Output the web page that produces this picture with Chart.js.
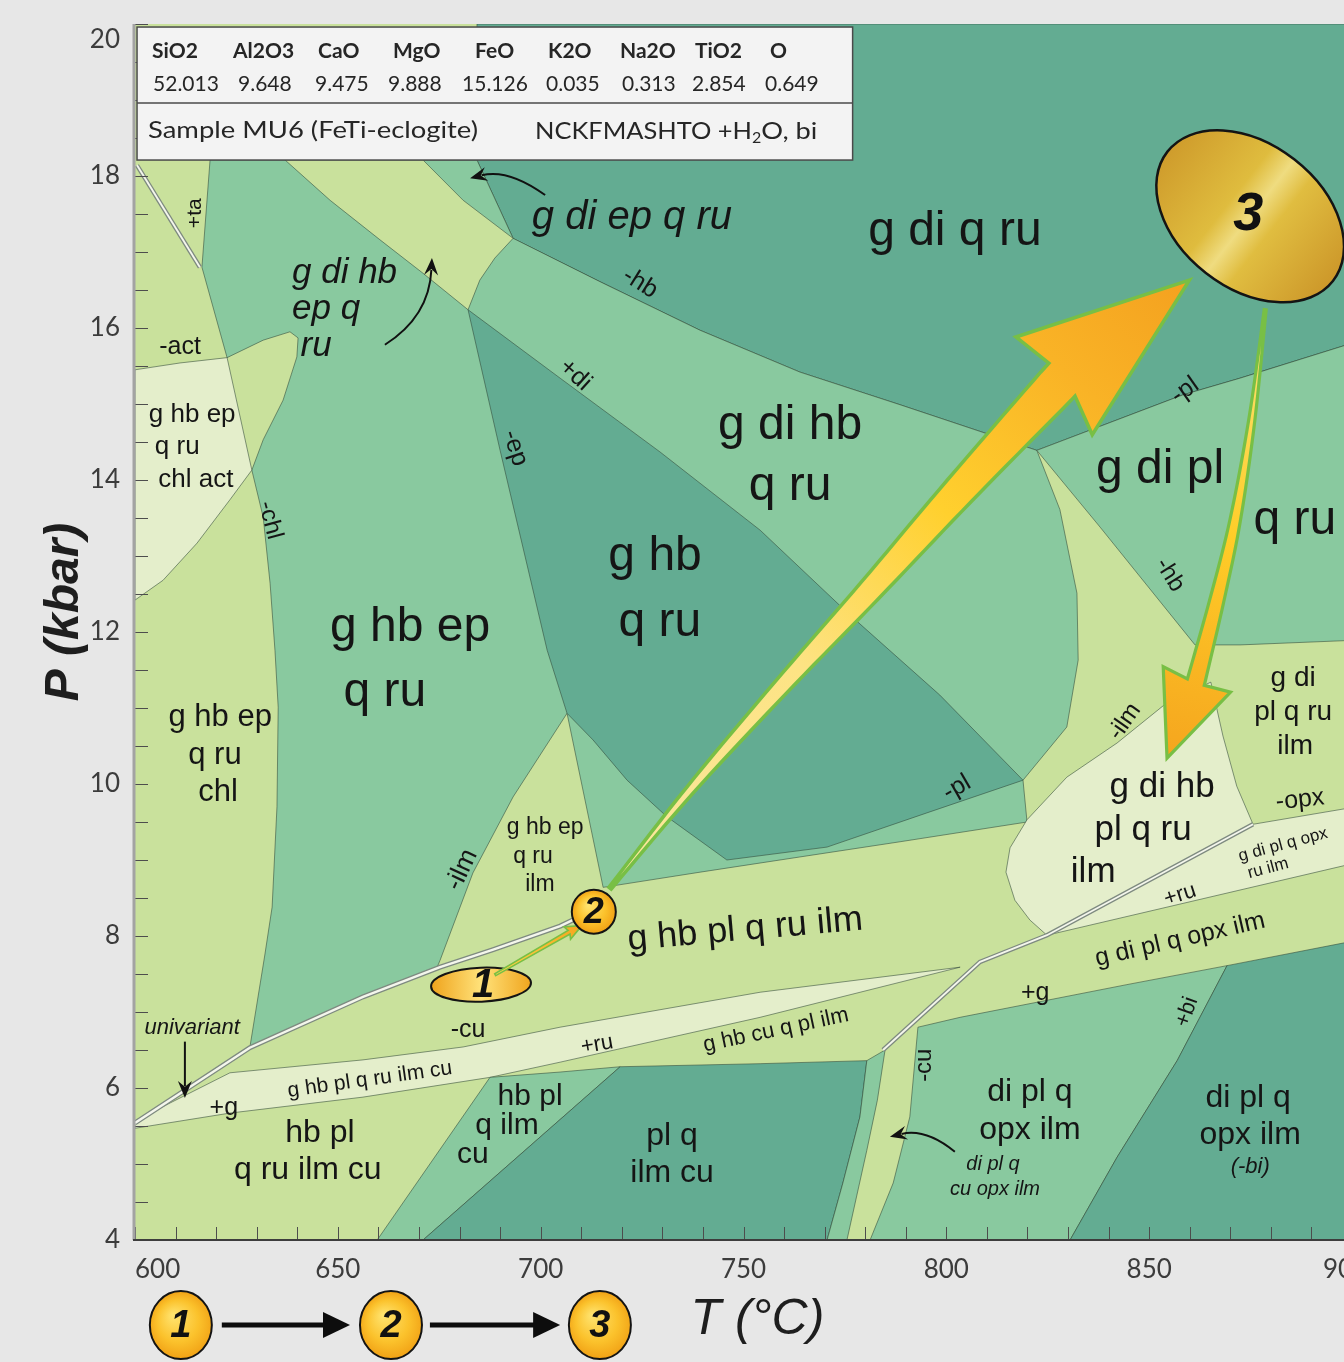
<!DOCTYPE html>
<html>
<head>
<meta charset="utf-8">
<title>Pseudosection MU6 (FeTi-eclogite)</title>
<script src="https://cdn.jsdelivr.net/npm/chart.js@4.4.1/dist/chart.umd.min.js"></script>
<style>
  html, body { margin:0; padding:0; width:1344px; height:1362px; overflow:hidden; background:#e7e7e7; }
  #wrap { position:relative; width:1380px; height:1362px; }
  canvas { display:block; }
</style>
</head>
<body>
<div id="wrap"><canvas id="chart" width="1380" height="1362"></canvas></div>
<script>
// ======================= DATA =======================
const T_TICKS = [600, 650, 700, 750, 800, 850, 900];
const P_TICKS = [4, 6, 8, 10, 12, 14, 16, 18, 20];
const OXIDES = ['SiO2', 'Al2O3', 'CaO', 'MgO', 'FeO', 'K2O', 'Na2O', 'TiO2', 'O'];
const OXIDE_VALUES = ['52.013', '9.648', '9.475', '9.888', '15.126', '0.035', '0.313', '2.854', '0.649'];

// phase-field polygons, points are [T (°C), P (kbar)]
const FIELD_G_DI_Q_RU = [[684.3,20],[900,20],[900,15.80],[872.4,15.34],[858.3,15.12],[822.3,14.39],[788.6,14.99],[763.9,15.42],[739.3,15.97],[714.6,16.61],[693.2,17.18],[684.3,18.21]];
const FIELD_G_HB_EP_Q_RU = [[618.5,18.21],[684.3,18.21],[693.2,17.18],[714.6,16.61],[739.3,15.97],[763.9,15.42],[788.6,14.99],[822.3,14.39],[828.0,13.61],[832.2,12.51],[832.5,11.63],[829.7,10.75],[818.9,10.05],[819.9,9.50],[788.6,9.24],[763.9,9.04],[739.3,8.84],[715.4,8.64],[706.5,10.93],[693.2,9.83],[683.3,8.83],[675.2,7.68],[674.4,7.58],[656.2,7.20],[628.3,6.53],[632.0,7.75],[633.8,8.38],[635.0,9.70],[635.3,11.01],[634.5,11.76],[633.3,12.64],[631.6,13.51],[628.8,14.13],[631.6,14.53],[636.5,15.05],[639.9,15.62],[640.2,15.87],[638.2,15.95],[631.6,15.84],[622.7,15.61],[616.5,16.80]];
const FIELD_G_DI_HB_EP_Q_RU = [[637.0,18.21],[671.0,18.21],[680.9,17.68],[693.2,17.18],[688.7,16.92],[685.0,16.63],[682.1,16.24],[671.0,16.72],[660.4,17.16],[648.1,17.68]];
const FIELD_G_HB_Q_RU = [[682.1,16.24],[704.8,15.34],[729.4,14.37],[754.1,13.34],[776.3,12.22],[798.4,11.17],[818.9,10.05],[795.2,9.62],[770.6,9.17],[745.9,9.00],[731.1,9.57],[721.3,10.05],[712.9,10.58],[706.5,10.93],[701.6,11.76],[690.0,14.39]];
const FIELD_G_HB_EP_Q_RU_CHL_ACT = [[600,15.45],[611.1,15.54],[622.7,15.61],[628.8,14.13],[623.4,13.74],[615.3,13.17],[606.9,12.68],[600,12.42]];
const FIELD_G_DI_PL_Q_RU = [[822.3,14.39],[858.3,15.12],[872.4,15.34],[900,15.80],[900,11.89],[872.4,11.83],[861.3,11.83],[837.9,13.38]];
const FIELD_G_DI_HB_PL_Q_RU_ILM = [[865.2,11.34],[854.4,11.07],[842.1,10.54],[829.7,10.09],[819.9,9.53],[815.7,9.16],[814.7,8.84],[816.9,8.47],[820.6,8.21],[824.8,8.01],[850.2,8.74],[875.6,9.47],[871.6,9.97],[868.2,10.63]];
const FIELD_G_DI_PL_Q_OPX_RU_ILM = [[824.8,8.01],[875.6,9.47],[900,9.69],[900,8.95]];
const FIELD_G_HB_PL_Q_RU_ILM_CU = [[600,5.57],[623.4,6.20],[656.2,6.37],[680.9,6.54],[704.8,6.80],[754.1,7.26],[803.4,7.59],[754.1,6.93],[704.8,6.34],[687.5,6.14],[656.2,5.88],[623.4,5.67],[600,5.47]];
const FIELD_HB_PL_Q_ILM_CU = [[687.5,6.14],[704.8,6.21],[719.6,6.28],[671.0,4],[659.7,4]];
const FIELD_PL_Q_ILM_CU = [[719.6,6.28],[754.1,6.32],[780.4,6.36],[778.7,5.62],[774.5,4.75],[770.6,4],[671.0,4]];
const FIELD_PL_Q_CU_EDGE = [[780.4,6.36],[784.9,6.50],[783.0,5.84],[780.4,5.18],[775.5,4],[770.6,4],[774.5,4.75],[778.7,5.62]];
const FIELD_DI_PL_Q_OPX_ILM = [[793.0,6.80],[803.4,6.93],[844.5,7.36],[869.2,7.61],[856.9,6.36],[842.1,5.09],[830.5,4],[781.2,4],[786.9,4.75],[791.0,5.62]];
const FIELD_DI_PL_Q_OPX_ILM_NO_BI = [[869.2,7.61],[900,7.93],[900,4],[830.5,4],[842.1,5.09],[856.9,6.36]];

// univariant / degenerate lines
const LINE_UNIVARIANT = [[600,5.54],[628.3,6.53],[656.2,7.20],[675.2,7.59],[688.3,7.82],[704.8,8.13],[712.2,8.32]];
const LINE_CU_OUT = [[784.4,6.50],[808.3,7.66],[824.8,8.01],[875.6,9.47]];
const LINE_TA = [[600.5,18.14],[616.0,16.80]];

// P-T path of the sample: stages 1, 2, 3 and the arrows between them
const STAGES = [[685.3,7.36],[713.1,8.32],[874.9,17.47]];
const PATH_1_TO_2 = [[688.8,7.49],[707.0,8.05]];
const TIP_1_TO_2 = [710.2,8.14];
const PATH_2_TO_3 = [[717.1,8.63],[736.8,9.92],[759.0,11.26],[781.2,12.55],[803.4,13.87],[828.5,15.32]];
const TIP_2_TO_3 = [859.9,16.63];
const PATH_3_RETRO = [[878.6,16.24],[875.3,14.79],[871.2,13.47],[866.7,12.42],[861.5,11.34]];
const TIP_3_RETRO = [854.4,10.34];

// ======================= STYLE / ANNOTATION =======================
const TEAL = '#63ac92', MED = '#89c99f', YG = '#c9e19c', CREAM = '#e4eecb';
const EDGE = 'rgba(45,70,55,0.55)';
const LABEL_FONT = "'Liberation Sans', Arial, sans-serif";

const FIELD_LAYERS = [
  [FIELD_G_DI_Q_RU, TEAL],
  [FIELD_G_HB_EP_Q_RU, MED],
  [FIELD_G_DI_HB_EP_Q_RU, YG],
  [FIELD_G_HB_Q_RU, TEAL],
  [FIELD_G_HB_EP_Q_RU_CHL_ACT, CREAM],
  [FIELD_G_DI_PL_Q_RU, MED],
  [FIELD_G_DI_HB_PL_Q_RU_ILM, CREAM],
  [FIELD_G_DI_PL_Q_OPX_RU_ILM, CREAM],
  [FIELD_G_HB_PL_Q_RU_ILM_CU, CREAM],
  [FIELD_HB_PL_Q_ILM_CU, MED],
  [FIELD_PL_Q_ILM_CU, TEAL],
  [FIELD_PL_Q_CU_EDGE, MED],
  [FIELD_DI_PL_Q_OPX_ILM, MED],
  [FIELD_DI_PL_Q_OPX_ILM_NO_BI, TEAL]
];

const REGION_LABELS = [
  {t:'g di ep q ru', T:722.5, P:17.45, s:40, i:1},
  {t:'g di q ru', T:802.1, P:17.26, s:48},
  {t:'g di hb', T:638.7, P:16.72, s:35, i:1, a:'left'},
  {t:'ep q', T:638.7, P:16.24, s:35, i:1, a:'left'},
  {t:'ru', T:640.8, P:15.76, s:35, i:1, a:'left'},
  {t:'g di hb', T:761.5, P:14.72, s:48},
  {t:'q ru', T:761.5, P:13.91, s:48},
  {t:'g hb', T:728.2, P:12.99, s:48},
  {t:'q ru', T:729.4, P:12.12, s:48},
  {t:'g hb ep', T:667.8, P:12.05, s:48},
  {t:'q ru', T:661.6, P:11.20, s:48},
  {t:'g di pl', T:852.7, P:14.13, s:48},
  {t:'q ru', T:885.9, P:13.47, s:48},
  {t:'g hb ep', T:614.1, P:14.86, s:26},
  {t:'q ru', T:610.4, P:14.43, s:26},
  {t:'chl act', T:615.0, P:14.00, s:26},
  {t:'g hb ep', T:621.0, P:10.88, s:31},
  {t:'q ru', T:619.7, P:10.38, s:31},
  {t:'chl', T:620.5, P:9.89, s:31},
  {t:'g hb ep', T:701.1, P:9.42, s:23},
  {t:'q ru', T:698.1, P:9.04, s:23},
  {t:'ilm', T:699.8, P:8.67, s:23},
  {t:'g hb pl q ru ilm', T:750.4, P:8.08, s:36, r:-5},
  {t:'g di hb', T:853.2, P:9.96, s:35},
  {t:'pl q ru', T:848.5, P:9.39, s:35},
  {t:'ilm', T:836.2, P:8.84, s:35},
  {t:'g di', T:885.5, P:11.39, s:28},
  {t:'pl q ru', T:885.5, P:10.95, s:28},
  {t:'ilm', T:886.0, P:10.50, s:28},
  {t:'-opx', T:887.2, P:9.79, s:25, r:-6},
  {t:'g di pl q opx', T:883.0, P:9.20, s:17, r:-15},
  {t:'ru ilm', T:879.3, P:8.89, s:17, r:-15},
  {t:'+ru', T:857.6, P:8.54, s:22, r:-18},
  {t:'g di pl q opx ilm', T:857.6, P:7.95, s:25, r:-13},
  {t:'+g', T:821.9, P:7.25, s:25},
  {t:'+bi', T:859.3, P:7.00, s:22, r:-70},
  {t:'di pl q', T:820.6, P:5.95, s:32},
  {t:'opx ilm', T:820.6, P:5.45, s:32},
  {t:'di pl q', T:874.4, P:5.87, s:32},
  {t:'opx ilm', T:874.9, P:5.38, s:32},
  {t:'(-bi)', T:874.9, P:4.96, s:22, i:1},
  {t:'-cu', T:794.7, P:6.30, s:24, r:-90},
  {t:'di pl q', T:811.5, P:4.99, s:20, i:1},
  {t:'cu opx ilm', T:812.0, P:4.66, s:20, i:1},
  {t:'pl q', T:732.4, P:5.36, s:32},
  {t:'ilm cu', T:732.4, P:4.88, s:32},
  {t:'hb pl', T:697.4, P:5.89, s:30},
  {t:'q ilm', T:691.7, P:5.51, s:30},
  {t:'cu', T:683.3, P:5.12, s:30},
  {t:'hb pl', T:645.6, P:5.41, s:32},
  {t:'q ru ilm cu', T:642.6, P:4.92, s:32},
  {t:'g hb pl q ru ilm cu', T:657.9, P:6.11, s:21, r:-8},
  {t:'+g', T:621.9, P:5.74, s:25},
  {t:'univariant', T:614.1, P:6.79, s:22, i:1},
  {t:'-cu', T:682.1, P:6.76, s:25},
  {t:'+ru', T:713.9, P:6.57, s:22, r:-10},
  {t:'g hb cu q pl ilm', T:758.0, P:6.76, s:22, r:-12},
  {t:'-ilm', T:680.6, P:8.87, s:26, r:-65},
  {t:'-chl', T:633.3, P:13.47, s:24, r:75},
  {t:'-act', T:611.1, P:15.75, s:25},
  {t:'+ta', T:614.8, P:17.51, s:21, r:-90},
  {t:'-ep', T:693.7, P:14.42, s:25, r:72},
  {t:'+di', T:708.5, P:15.38, s:25, r:42},
  {t:'-hb', T:724.5, P:16.59, s:25, r:32},
  {t:'-pl', T:858.8, P:15.18, s:25, r:-35},
  {t:'-hb', T:855.1, P:12.75, s:24, r:58},
  {t:'-ilm', T:844.0, P:10.82, s:24, r:-55},
  {t:'-pl', T:802.6, P:9.95, s:25, r:-30}
];

const POINTER_ARROWS = [
  {from:[701.1,17.75], via:[692.0,18.10], to:[682.6,17.97]},
  {from:[661.6,15.78], via:[672.5,16.15], to:[673.2,16.92]},
  {from:[612.3,6.61], via:[612.3,6.24], to:[612.3,5.87]},
  {from:[802.1,5.16], via:[795.0,5.47], to:[786.1,5.36]}
];

const BOX = {T0:600.5, T1:776.9, P0:19.96, P1:18.21, Pmid:18.96};
const HDR_DX = [15, 96, 181, 256, 338, 411, 483, 558, 633];
const VAL_DX = [16, 101, 178, 251, 325, 409, 485, 555, 628];

const STEP_ROW = {P:2.88, T:[611.3, 663.1, 714.6], arrows:[[621.4,653.0],[672.7,704.8]]};

// ======================= HELPERS =======================
function closed(a) { return a.concat([a[0]]); }
function toXY(a) { return a.map(p => ({x:p[0], y:p[1]})); }

function catmull(pts, seg) {
  if (pts.length < 3) return pts.slice();
  const out = [];
  for (let i = 0; i < pts.length - 1; i++) {
    const p0 = pts[Math.max(0, i - 1)], p1 = pts[i], p2 = pts[i + 1], p3 = pts[Math.min(pts.length - 1, i + 2)];
    for (let k = 0; k < seg; k++) {
      const t = k / seg, t2 = t * t, t3 = t2 * t;
      const f = j => 0.5 * ((2 * p1[j]) + (-p0[j] + p2[j]) * t + (2 * p0[j] - 5 * p1[j] + 4 * p2[j] - p3[j]) * t2 + (-p0[j] + 3 * p1[j] - 3 * p2[j] + p3[j]) * t3);
      out.push([f(0), f(1)]);
    }
  }
  out.push(pts[pts.length - 1]);
  return out;
}

function fatArrow(ctx, P, tip, o) {
  const pts = catmull(P, 10);
  const n = pts.length;
  const cum = [0];
  for (let i = 1; i < n; i++) cum.push(cum[i - 1] + Math.hypot(pts[i][0] - pts[i - 1][0], pts[i][1] - pts[i - 1][1]));
  const L = cum[n - 1] || 1;
  const left = [], right = [];
  for (let i = 0; i < n; i++) {
    const a = pts[Math.max(0, i - 1)], b = (i < n - 1) ? pts[i + 1] : tip;
    let dx = b[0] - a[0], dy = b[1] - a[1];
    const d = Math.hypot(dx, dy) || 1; dx /= d; dy /= d;
    const w = o.w0 + (o.w1 - o.w0) * Math.pow(cum[i] / L, o.pow || 1);
    left.push([pts[i][0] - dy * w / 2, pts[i][1] + dx * w / 2]);
    right.push([pts[i][0] + dy * w / 2, pts[i][1] - dx * w / 2]);
  }
  const base = pts[n - 1];
  let hx = tip[0] - base[0], hy = tip[1] - base[1];
  const hl = Math.hypot(hx, hy) || 1; hx /= hl; hy /= hl;
  const nx = -hy, ny = hx;
  const bL = [base[0] + nx * o.hw - hx * o.back, base[1] + ny * o.hw - hy * o.back];
  const bR = [base[0] - nx * o.hw - hx * o.back, base[1] - ny * o.hw - hy * o.back];
  ctx.save();
  ctx.beginPath();
  ctx.moveTo(left[0][0], left[0][1]);
  for (let i = 1; i < n; i++) ctx.lineTo(left[i][0], left[i][1]);
  ctx.lineTo(bL[0], bL[1]);
  ctx.lineTo(tip[0], tip[1]);
  ctx.lineTo(bR[0], bR[1]);
  for (let i = n - 1; i >= 0; i--) ctx.lineTo(right[i][0], right[i][1]);
  ctx.closePath();
  const g = ctx.createLinearGradient(pts[0][0], pts[0][1], tip[0], tip[1]);
  o.stops.forEach(s => g.addColorStop(s[0], s[1]));
  ctx.fillStyle = g;
  ctx.fill();
  ctx.lineJoin = 'miter';
  ctx.miterLimit = 6;
  ctx.lineWidth = o.sw;
  ctx.strokeStyle = '#78bf45';
  ctx.stroke();
  ctx.restore();
}

function pointer(ctx, s, c, e) {
  ctx.save();
  ctx.strokeStyle = '#111'; ctx.fillStyle = '#111'; ctx.lineWidth = 2;
  const ang = Math.atan2(e[1] - c[1], e[0] - c[0]);
  const hl = 17, hw = 7;
  const ca = Math.cos(ang), sa = Math.sin(ang);
  ctx.beginPath();
  ctx.moveTo(s[0], s[1]);
  ctx.quadraticCurveTo(c[0], c[1], e[0] - ca * hl * 0.7, e[1] - sa * hl * 0.7);
  ctx.stroke();
  ctx.beginPath();
  ctx.moveTo(e[0], e[1]);
  ctx.lineTo(e[0] - ca * hl - sa * hw, e[1] - sa * hl + ca * hw);
  ctx.lineTo(e[0] - ca * hl * 0.65, e[1] - sa * hl * 0.65);
  ctx.lineTo(e[0] - ca * hl + sa * hw, e[1] - sa * hl - ca * hw);
  ctx.closePath();
  ctx.fill();
  ctx.restore();
}

function drawLabel(ctx, x, y, l) {
  ctx.save();
  ctx.translate(x, y);
  if (l.r) ctx.rotate(l.r * Math.PI / 180);
  ctx.font = (l.i ? 'italic ' : '') + (l.b ? 'bold ' : '') + l.s + 'px ' + LABEL_FONT;
  ctx.textAlign = l.a || 'center';
  ctx.textBaseline = 'middle';
  ctx.fillStyle = '#151515';
  ctx.fillText(l.t, 0, 0);
  ctx.restore();
}

function goldEllipse(ctx, cx, cy, rx, ry, rot, kind) {
  ctx.save();
  ctx.beginPath();
  ctx.ellipse(cx, cy, rx, ry, rot, 0, Math.PI * 2);
  let g;
  if (kind === 'big') {
    const c = Math.cos(rot), s = Math.sin(rot);
    g = ctx.createLinearGradient(cx - c * rx, cy - s * rx, cx + c * rx, cy + s * rx);
    g.addColorStop(0, '#cf9c2c'); g.addColorStop(0.38, '#dfbc3e'); g.addColorStop(0.5, '#efdc80');
    g.addColorStop(0.62, '#e0bd40'); g.addColorStop(1, '#cd982a');
  } else if (kind === 'flat') {
    g = ctx.createLinearGradient(cx - rx, cy, cx + rx, cy);
    g.addColorStop(0, '#efa31c'); g.addColorStop(0.5, '#ffe27a'); g.addColorStop(1, '#f0a51e');
  } else {
    g = ctx.createRadialGradient(cx - rx * 0.25, cy - ry * 0.3, 1, cx, cy, Math.max(rx, ry));
    g.addColorStop(0, '#ffe36e'); g.addColorStop(0.6, '#fbc22c'); g.addColorStop(1, '#f1a115');
  }
  ctx.fillStyle = g;
  ctx.fill();
  ctx.lineWidth = kind === 'big' ? 2.5 : 2;
  ctx.strokeStyle = '#141414';
  ctx.stroke();
  ctx.restore();
}

function numText(ctx, t, x, y, size) {
  ctx.save();
  ctx.font = 'italic bold ' + size + 'px ' + LABEL_FONT;
  ctx.textAlign = 'center'; ctx.textBaseline = 'middle';
  ctx.fillStyle = '#111';
  ctx.fillText(t, x, y + 1);
  ctx.restore();
}

function fitText(ctx, t, x, y, width) {
  const w = ctx.measureText(t).width;
  const k = Math.max(0.8, Math.min(1.25, width / w));
  ctx.save(); ctx.translate(x, y); ctx.scale(k, 1); ctx.fillText(t, 0, 0); ctx.restore();
  return w * k;
}

// ======================= PLUGIN =======================
const pseudoPlugin = {
  id: 'pseudo',
  beforeDatasetsDraw(chart) {
    const {ctx, chartArea: a} = chart;
    ctx.save();
    ctx.fillStyle = YG;
    ctx.fillRect(a.left, a.top, a.right - a.left, a.bottom - a.top);
    ctx.restore();
  },
  afterDatasetsDraw(chart) {
    const {ctx, chartArea: a, scales} = chart;
    const X = v => scales.x.getPixelForValue(v);
    const Y = v => scales.y.getPixelForValue(v);
    const pt = p => [X(p[0]), Y(p[1])];

    ctx.save();
    ctx.beginPath(); ctx.rect(a.left, a.top, a.right - a.left, a.bottom - a.top); ctx.clip();

    for (const l of REGION_LABELS) drawLabel(ctx, X(l.T), Y(l.P), l);
    for (const p of POINTER_ARROWS) pointer(ctx, pt(p.from), pt(p.via), pt(p.to));

    // P-T path arrows
    fatArrow(ctx, PATH_2_TO_3.map(pt), pt(TIP_2_TO_3), {w0:3, w1:42, pow:1.15, hw:62, back:10, sw:3.5,
      stops:[[0,'#fbe7a0'],[0.35,'#fde383'],[0.6,'#ffd02e'],[0.82,'#f9b326'],[1,'#f4a11f']]});
    fatArrow(ctx, PATH_3_RETRO.map(pt), pt(TIP_3_RETRO), {w0:2, w1:18, pow:1.1, hw:36, back:3, sw:3.2,
      stops:[[0,'#fbe27a'],[0.5,'#ffcd28'],[1,'#f5a51e']]});

    const e1 = pt(STAGES[0]), e2 = pt(STAGES[1]), e3 = pt(STAGES[2]);
    goldEllipse(ctx, e1[0], e1[1], 50, 17, -0.04, 'flat');
    fatArrow(ctx, PATH_1_TO_2.map(pt), pt(TIP_1_TO_2), {w0:2, w1:4, pow:1, hw:7, back:2, sw:1.6,
      stops:[[0,'#ffd84a'],[1,'#f5a51e']]});
    goldEllipse(ctx, e2[0], e2[1], 22, 22, 0, 'round');
    goldEllipse(ctx, e3[0], e3[1], 105, 72, 38 * Math.PI / 180, 'big');
    numText(ctx, '1', e1[0] + 2, e1[1], 40);
    numText(ctx, '2', e2[0], e2[1], 36);
    numText(ctx, '3', e3[0] - 2, e3[1] - 2, 54);
    ctx.restore();

    // inward tick marks
    ctx.save();
    ctx.strokeStyle = '#4d4d4d'; ctx.lineWidth = 1;
    for (let p = 4; p <= 20.001; p += 0.5) {
      const y = Math.round(Y(p)) + 0.5;
      ctx.beginPath(); ctx.moveTo(a.left, y); ctx.lineTo(a.left + 13, y); ctx.stroke();
    }
    for (let t = 600; t <= 900.001; t += 10) {
      const x = Math.round(X(t)) + 0.5;
      ctx.beginPath(); ctx.moveTo(x, a.bottom); ctx.lineTo(x, a.bottom - 13); ctx.stroke();
    }
    // plot frame
    ctx.strokeStyle = '#a3a3a3'; ctx.lineWidth = 3;
    ctx.beginPath(); ctx.moveTo(a.left - 1, a.top); ctx.lineTo(a.left - 1, a.bottom); ctx.stroke();
    ctx.strokeStyle = '#3d3d3d'; ctx.lineWidth = 2;
    ctx.beginPath(); ctx.moveTo(a.left - 2, a.bottom); ctx.lineTo(a.right, a.bottom); ctx.stroke();
    ctx.restore();

    // composition box
    const bx0 = X(BOX.T0), bx1 = X(BOX.T1), by0 = Y(BOX.P0), by1 = Y(BOX.P1), bym = Y(BOX.Pmid);
    ctx.save();
    ctx.fillStyle = '#f3f3f3';
    ctx.fillRect(bx0, by0, bx1 - bx0, by1 - by0);
    ctx.strokeStyle = '#4a4a4a'; ctx.lineWidth = 1.5;
    ctx.strokeRect(bx0, by0, bx1 - bx0, by1 - by0);
    ctx.beginPath(); ctx.moveTo(bx0, bym); ctx.lineTo(bx1, bym); ctx.stroke();
    ctx.fillStyle = '#262626';
    ctx.textBaseline = 'middle'; ctx.textAlign = 'left';
    ctx.font = 'bold 21px Lato, "Open Sans", sans-serif';
    OXIDES.forEach((s, i) => ctx.fillText(s, bx0 + HDR_DX[i], by0 + 24));
    ctx.font = '21px Lato, "Open Sans", sans-serif';
    OXIDE_VALUES.forEach((s, i) => ctx.fillText(s, bx0 + VAL_DX[i], by0 + 57));
    ctx.font = '23px Lato, "Open Sans", sans-serif';
    fitText(ctx, 'Sample MU6 (FeTi-eclogite)', bx0 + 11, by0 + 104, 330);
    let xx = bx0 + 398;
    const y2 = by0 + 105;
    xx += fitText(ctx, 'NCKFMASHTO +H', xx, y2, 217);
    ctx.font = '16px Lato, "Open Sans", sans-serif';
    ctx.fillText('2', xx, y2 + 6); xx += ctx.measureText('2').width;
    ctx.font = '23px Lato, "Open Sans", sans-serif';
    fitText(ctx, 'O, bi', xx, y2, 56);
    ctx.restore();

    // stage sequence 1 -> 2 -> 3 under the axis
    ctx.save();
    const ys = Y(STEP_ROW.P);
    STEP_ROW.arrows.forEach(([t0, t1]) => {
      const x0 = X(t0), x1 = X(t1);
      ctx.strokeStyle = '#0d0d0d'; ctx.fillStyle = '#0d0d0d'; ctx.lineWidth = 5;
      ctx.beginPath(); ctx.moveTo(x0, ys); ctx.lineTo(x1 - 20, ys); ctx.stroke();
      ctx.beginPath(); ctx.moveTo(x1, ys); ctx.lineTo(x1 - 27, ys - 13); ctx.lineTo(x1 - 27, ys + 13); ctx.closePath(); ctx.fill();
    });
    STEP_ROW.T.forEach((t, i) => {
      const x = X(t);
      goldEllipse(ctx, x, ys, 31, 34, 0, 'round');
      numText(ctx, String(i + 1), x, ys, 38);
    });
    ctx.restore();
  }
};

// ======================= DATASETS =======================
const datasets = [];
FIELD_LAYERS.forEach(([pts, color], i) => {
  datasets.push({
    data: toXY(closed(pts)), showLine: true, fill: 'shape', backgroundColor: color,
    borderColor: EDGE, borderWidth: 1, pointRadius: 0, pointHoverRadius: 0, tension: 0,
    order: 200 - i
  });
});
[[LINE_UNIVARIANT, 5], [LINE_CU_OUT, 4.5], [LINE_TA, 4.5]].forEach(([pts, w], i) => {
  datasets.push({data: toXY(pts), showLine: true, fill: false, borderColor: '#7e8a80', borderWidth: w,
    pointRadius: 0, order: 50 - 2 * i});
  datasets.push({data: toXY(pts), showLine: true, fill: false, borderColor: '#f4f6ec', borderWidth: w - 2.6,
    pointRadius: 0, order: 49 - 2 * i});
});

new Chart(document.getElementById('chart'), {
  type: 'scatter',
  data: { datasets },
  options: {
    responsive: false,
    animation: false,
    devicePixelRatio: 1,
    events: [],
    layout: { padding: { top: 24, right: 28, bottom: 0, left: 0 } },
    plugins: { legend: { display: false }, tooltip: { enabled: false } },
    scales: {
      x: {
        type: 'linear', min: 600, max: 900,
        afterBuildTicks: s => { s.ticks = T_TICKS.map(v => ({value: v})); },
        afterFit: s => { s.height = 122; s.paddingLeft = 0; s.paddingRight = 0; },
        grid: { display: false, drawTicks: false },
        border: { display: false },
        ticks: { autoSkip: false, maxRotation: 0, padding: 14, color: '#3c3c3c',
          font: { family: 'Lato, "Open Sans", sans-serif', size: 26 },
          callback: v => v === 600 ? '\u2007\u2007\u2007600' : (v === 900 ? '900\u2002' : String(v)) },
        title: { display: true, text: '  T (°C)', color: '#1e1e1e', padding: { top: 0, bottom: 12 },
          font: { family: LABEL_FONT, size: 50, style: 'italic' } }
      },
      y: {
        type: 'linear', min: 4, max: 20,
        afterBuildTicks: s => { s.ticks = P_TICKS.map(v => ({value: v})); },
        afterFit: s => { s.width = 135; s.paddingTop = 0; s.paddingBottom = 0; },
        grid: { display: false, drawTicks: false },
        border: { display: false },
        ticks: { autoSkip: false, padding: 15, color: '#3c3c3c',
          font: { family: 'Lato, "Open Sans", sans-serif', size: 26 },
          callback: v => v === 20 ? ['', '20'] : String(v) },
        title: { display: true, text: '   P (kbar)', color: '#1e1e1e', padding: { top: 36, bottom: 0 },
          font: { family: LABEL_FONT, size: 48, style: 'italic', weight: 'bold' } }
      }
    }
  },
  plugins: [pseudoPlugin]
});
</script>
</body>
</html>
